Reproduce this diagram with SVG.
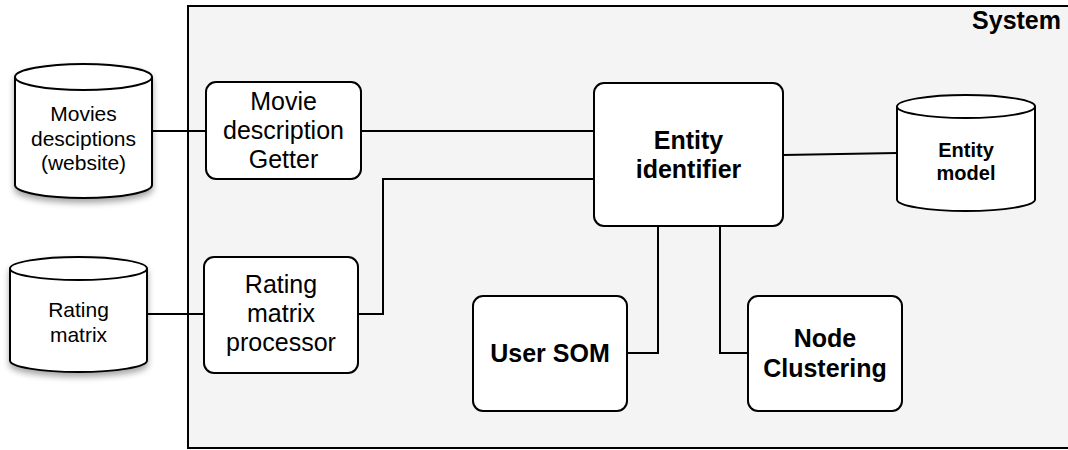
<svg xmlns="http://www.w3.org/2000/svg" width="1068" height="450" viewBox="0 0 1068 450">
  <style>
    .box { fill: #ffffff; stroke: #000000; stroke-width: 2; }
    .db { fill: #ffffff; stroke: #000000; stroke-width: 2; }
    .dbtop { fill: none; stroke: #000000; stroke-width: 2; }
    .link { fill: none; stroke: #000000; stroke-width: 2; }
    .txt { font-family: "Liberation Sans", Arial, sans-serif; text-anchor: middle; fill: #000000; }
    .reg { font-size: 25px; }
    .small { font-size: 21px; }
    .bold { font-weight: bold; font-size: 25px; }
    .boldsm { font-weight: bold; font-size: 20px; }
  </style>
  <defs>
    <filter id="shadow" x="-20%" y="-20%" width="140%" height="150%">
      <feDropShadow dx="0" dy="4" stdDeviation="3" flood-color="#000000" flood-opacity="0.35"/>
    </filter>
  </defs>

  <!-- system boundary -->
  <g id="system">
    <rect x="188" y="6" width="900" height="442" fill="#f4f4f4" stroke="#000000" stroke-width="2"/>
    <text x="1061" y="29" class="txt bold" style="text-anchor:end">System</text>
  </g>

  <!-- connectors -->
  <g id="connectors">
    <path class="link" d="M152 131 H206"/>
    <path class="link" d="M361 131 H594"/>
    <path class="link" d="M147 314 H204"/>
    <path class="link" d="M358 314 H383 V179 H594"/>
    <path class="link" d="M783 155 L897 153"/>
    <path class="link" d="M658 226 V353 H627"/>
    <path class="link" d="M720 226 V353 H748"/>
  </g>

  <!-- data stores -->
  <g id="movies-descriptions">
    <path class="db" filter="url(#shadow)" d="M15 77 A68.5 13 0 0 1 152 77 V185 A68.5 13 0 0 1 15 185 Z"/>
    <path class="dbtop" d="M15 77 A68.5 13 0 0 0 152 77"/>
    <text class="txt small" x="83.5" y="121">Movies</text>
    <text class="txt small" x="83.5" y="146">desciptions</text>
    <text class="txt small" x="83.5" y="170">(website)</text>
  </g>

  <g id="rating-matrix">
    <path class="db" filter="url(#shadow)" d="M10 268.5 A68.5 11.5 0 0 1 147 268.5 V360.5 A68.5 11.5 0 0 1 10 360.5 Z"/>
    <path class="dbtop" d="M10 268.5 A68.5 11.5 0 0 0 147 268.5"/>
    <text class="txt small" x="78.5" y="317">Rating</text>
    <text class="txt small" x="78.5" y="342">matrix</text>
  </g>

  <g id="entity-model">
    <path class="db" d="M897 106.5 A69 11.5 0 0 1 1035 106.5 V199.5 A69 11.5 0 0 1 897 199.5 Z"/>
    <path class="dbtop" d="M897 106.5 A69 11.5 0 0 0 1035 106.5"/>
    <text class="txt boldsm" x="966" y="157">Entity</text>
    <text class="txt boldsm" x="966" y="180">model</text>
  </g>

  <!-- processing components -->
  <g id="movie-description-getter">
    <rect class="box" x="206" y="82" width="155" height="97" rx="10"/>
    <text class="txt reg" x="283.5" y="110">Movie</text>
    <text class="txt reg" x="283.5" y="139">description</text>
    <text class="txt reg" x="283.5" y="168">Getter</text>
  </g>

  <g id="rating-matrix-processor">
    <rect class="box" x="204" y="257" width="154" height="116" rx="10"/>
    <text class="txt reg" x="281" y="293">Rating</text>
    <text class="txt reg" x="281" y="322">matrix</text>
    <text class="txt reg" x="281" y="351">processor</text>
  </g>

  <g id="entity-identifier">
    <rect class="box" x="594" y="83" width="189" height="143" rx="10"/>
    <text class="txt bold" x="688.5" y="149">Entity</text>
    <text class="txt bold" x="688.5" y="178">identifier</text>
  </g>

  <g id="user-som">
    <rect class="box" x="473" y="296" width="154" height="115" rx="10"/>
    <text class="txt bold" x="550" y="362">User SOM</text>
  </g>

  <g id="node-clustering">
    <rect class="box" x="748" y="296" width="154" height="115" rx="10"/>
    <text class="txt bold" x="825" y="347">Node</text>
    <text class="txt bold" x="825" y="377">Clustering</text>
  </g>
</svg>
